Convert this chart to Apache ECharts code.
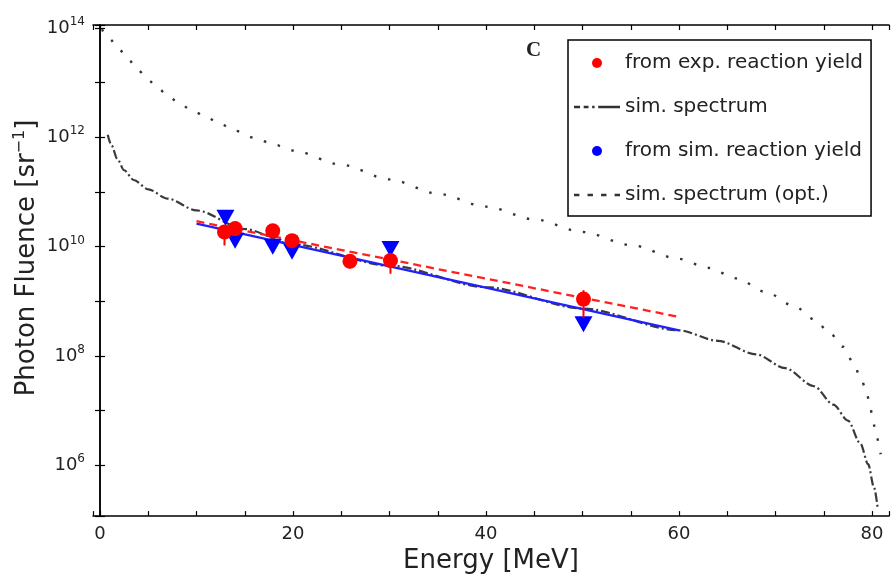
<!DOCTYPE html>
<html>
<head>
<meta charset="utf-8">
<script src="https://cdn.jsdelivr.net/npm/echarts@6/dist/echarts.min.js"></script>
<style>
html, body { margin: 0; padding: 0; background: #fff; }
#chart { width: 892px; height: 579px; }
</style>
</head>
<body>
<div id="chart"></div>
<script>
// Simulated bremsstrahlung spectrum: energy [MeV] and photon fluence [sr^-1]
const simEnergy  = [0.8, 1.2, 1.8, 2.5, 3.5, 5.0, 7.0, 10.0, 15.0, 20.0, 30.0, 40.0, 50.0, 60.0, 64.0, 68.0, 71.0, 74.0, 76.0, 77.5, 78.8, 79.6, 80.2, 80.6];
const simFluence = [1.12e12, 7.1e11, 4.0e11, 2.5e11, 1.66e11, 1.12e11, 7.6e10, 4.6e10, 2.1e10, 1.1e10, 4.5e9, 1.82e9, 7.4e8, 2.95e8, 1.9e8, 1.07e8, 6.0e7, 2.8e7, 1.29e7, 6.6e6, 2.5e6, 1.05e6, 4.0e5, 1.6e5];

// Simulated spectrum for optimised conditions
const optEnergy  = [0.2, 1.0, 2.0, 3.0, 4.0, 5.0, 6.0, 7.0, 8.0, 9.5, 11.0, 12.5, 14.0, 16.0, 18.0, 20.0, 25.0, 30.0, 35.0, 40.0, 45.0, 50.0, 55.0, 60.0, 63.0, 66.0, 69.0, 72.0, 74.0, 75.5, 77.0, 78.0, 78.8, 79.4, 79.8, 80.1, 80.5, 80.9];
const optFluence = [9.5e13, 6.3e13, 4.0e13, 2.57e13, 1.66e13, 1.12e13, 7.9e12, 5.9e12, 4.5e12, 3.16e12, 2.34e12, 1.74e12, 1.32e12, 9.8e11, 7.4e11, 5.75e11, 3.16e11, 1.7e11, 9.3e10, 5.4e10, 3.16e10, 1.86e10, 1.07e10, 6.0e9, 4.1e9, 2.63e9, 1.48e9, 8.1e8, 4.7e8, 2.8e8, 1.48e8, 7.9e7, 4.2e7, 2.3e7, 1.23e7, 6.3e6, 3.2e6, 1.6e6];

// Fluence derived from the measured reaction yields, with uncertainty range
const expEnergy  = [12.9, 14.0, 17.9, 19.9, 25.9, 30.1, 50.1];
const expFluence = [1.86e10, 2.14e10, 1.95e10, 1.29e10, 5.4e9, 5.6e9, 1.1e9];
const expLow     = [1.05e10, 1.6e10, 1.5e10, 1.0e10, 4.0e9, 3.2e9, 5.0e8];
const expHigh    = [2.5e10, 2.8e10, 2.5e10, 1.66e10, 6.6e9, 7.6e9, 1.6e9];

// Fluence derived from the simulated reaction yields
const simYieldEnergy  = [13.0, 14.0, 17.9, 19.9, 30.1, 50.1];
const simYieldFluence = [3.4e10, 1.29e10, 1.0e10, 8.1e9, 9.1e9, 3.8e8];

// Exponential fits over 10-60 MeV (end points)
const fitEnergy = [10, 60];
const expFit    = [2.92e10, 5.2e8];
const simFit    = [2.63e10, 2.95e8];

// Axis tick labels
const xLabelValues = [0, 20, 40, 60, 80];
const yLabelExponents = [6, 8, 10, 12, 14];

const FONT = 'DejaVu Sans';
const TXT = '#222';

const zip = (a, b) => a.map((v, i) => [v, b[i]]);

function yLabel(v) {
  const e = Math.log10(v);
  const r = Math.round(e);
  if (Math.abs(e - r) > 1e-6 || yLabelExponents.indexOf(r) < 0) return '';
  return '{b|10}{s|' + r + '}';
}
function xLabel(v) {
  return xLabelValues.some(t => Math.abs(t - v) < 1e-6) ? String(Math.round(v)) : '';
}

// Legend glyphs for the two spectrum line styles (dash-dot-long and dotted)
const dashDotIcon = 'path://M0,0h5v2h-5z M8,0h4v2h-4z M15,0h2v2h-2z M20,0h18v2h-18z';
const dottedIcon  = 'path://M0,0h4v2h-4z M10,0h4v2h-4z M20,0h4v2h-4z M30,0h4v2h-4z';

const xRange = { min: -0.725, max: 81.76 };
const yRange = { min: 1.18e5, max: 1.135e14 };

const frameLine = { show: true, lineStyle: { color: '#000', width: 1.5 } };
const frameTick = { show: true, inside: true, length: 5, lineStyle: { color: '#000', width: 1.2 } };

const chart = echarts.init(document.getElementById('chart'), null, { renderer: 'canvas' });

chart.setOption({
  animation: false,
  backgroundColor: '#fff',
  grid: { left: 93, top: 25, width: 796, height: 494, show: false },
  xAxis: [
    {
      type: 'value', ...xRange, splitNumber: 16, minInterval: 5, maxInterval: 5,
      axisLine: frameLine, axisTick: frameTick, splitLine: { show: false },
      axisLabel: { interval: 0, formatter: xLabel, margin: 9, fontFamily: FONT, fontSize: 18, color: TXT },
      name: 'Energy [MeV]', nameLocation: 'middle', nameGap: 31,
      nameTextStyle: { fontFamily: FONT, fontSize: 26, color: TXT }
    },
    {
      type: 'value', position: 'top', ...xRange, splitNumber: 16, minInterval: 5, maxInterval: 5,
      axisLine: frameLine, axisTick: frameTick, splitLine: { show: false },
      axisLabel: { show: false }
    }
  ],
  yAxis: [
    {
      type: 'log', logBase: 10, ...yRange, splitNumber: 9,
      axisLine: frameLine, axisTick: frameTick, splitLine: { show: false }, minorTick: { show: false },
      axisLabel: {
        interval: 0, formatter: yLabel, margin: 8, color: TXT,
        rich: {
          b: { fontFamily: FONT, fontSize: 18, color: TXT },
          s: { fontFamily: FONT, fontSize: 12, color: TXT, padding: [0, 0, 12, 0] }
        }
      }
    },
    {
      type: 'log', logBase: 10, position: 'right', ...yRange, splitNumber: 9,
      axisLine: frameLine, axisTick: frameTick, splitLine: { show: false },
      axisLabel: { show: false }
    }
  ],
  legend: {
    orient: 'vertical', left: 568, top: 40,
    padding: [13, 8, 11, 6], itemGap: 24,
    itemWidth: 46, itemHeight: 10, symbolKeepAspect: true,
    borderColor: '#000', borderWidth: 1.5, backgroundColor: '#fff',
    selectedMode: false,
    textStyle: { fontFamily: FONT, fontSize: 20, color: TXT },
    data: [
      { name: 'from exp. reaction yield', icon: 'circle' },
      { name: 'sim. spectrum', icon: dashDotIcon },
      { name: 'from sim. reaction yield', icon: 'circle' },
      { name: 'sim. spectrum (opt.)', icon: dottedIcon }
    ]
  },
  graphic: [
    {
      type: 'text', x: 27, y: 258, rotation: Math.PI / 2,
      style: {
        text: 'Photon Fluence [sr{s|−1}]', fill: TXT,
        fontFamily: FONT, fontSize: 26, align: 'center', verticalAlign: 'middle',
        rich: { s: { fontFamily: FONT, fontSize: 16, fill: TXT, padding: [0, 0, 14, 0] } }
      }
    },
    {
      type: 'text', x: 526, y: 40,
      style: { text: 'C', fill: '#222', fontFamily: 'Liberation Serif', fontWeight: 'bold', fontSize: 21 }
    }
  ],
  series: [
    {
      name: 'sim. spectrum (opt.)', type: 'line', data: zip(optEnergy, optFluence),
      symbol: 'none', smooth: 0.3, smoothMonotone: 'x', z: 1,
      lineStyle: { color: '#333', width: 2.4, type: [2.5, 12] },
      itemStyle: { color: '#333' }
    },
    {
      name: 'sim. spectrum', type: 'line', data: zip(simEnergy, simFluence),
      symbol: 'none', smooth: 0.3, smoothMonotone: 'x', z: 2,
      lineStyle: { color: '#3a3a3a', width: 2.2, type: [9, 3, 2, 3] },
      itemStyle: { color: '#333' }
    },
    {
      name: 'sim. yield fit', type: 'line', data: zip(fitEnergy, simFit),
      symbol: 'none', z: 3, lineStyle: { color: '#2020ff', width: 2.3 }
    },
    {
      name: 'exp. yield fit', type: 'line', data: zip(fitEnergy, expFit),
      symbol: 'none', z: 4, lineStyle: { color: '#ff2020', width: 2.3, type: [8, 5] }
    },
    {
      name: 'from sim. reaction yield', type: 'scatter', data: zip(simYieldEnergy, simYieldFluence),
      symbol: 'triangle', symbolRotate: 180, symbolSize: [18, 16], z: 5,
      itemStyle: { color: '#0000ff', opacity: 1 }
    },
    {
      name: 'exp. error', type: 'custom', z: 6,
      data: expEnergy.map((e, i) => [e, expLow[i], expHigh[i]]),
      encode: { x: 0, y: [1, 2] },
      renderItem: function (params, api) {
        const p1 = api.coord([api.value(0), api.value(1)]);
        const p2 = api.coord([api.value(0), api.value(2)]);
        return {
          type: 'line',
          shape: { x1: p1[0], y1: p1[1], x2: p2[0], y2: p2[1] },
          style: { stroke: '#ff0000', lineWidth: 2 }
        };
      }
    },
    {
      name: 'from exp. reaction yield', type: 'scatter', data: zip(expEnergy, expFluence),
      symbol: 'circle', symbolSize: 15, z: 7,
      itemStyle: { color: '#ff0000', opacity: 1 }
    }
  ]
});
</script>
</body>
</html>
